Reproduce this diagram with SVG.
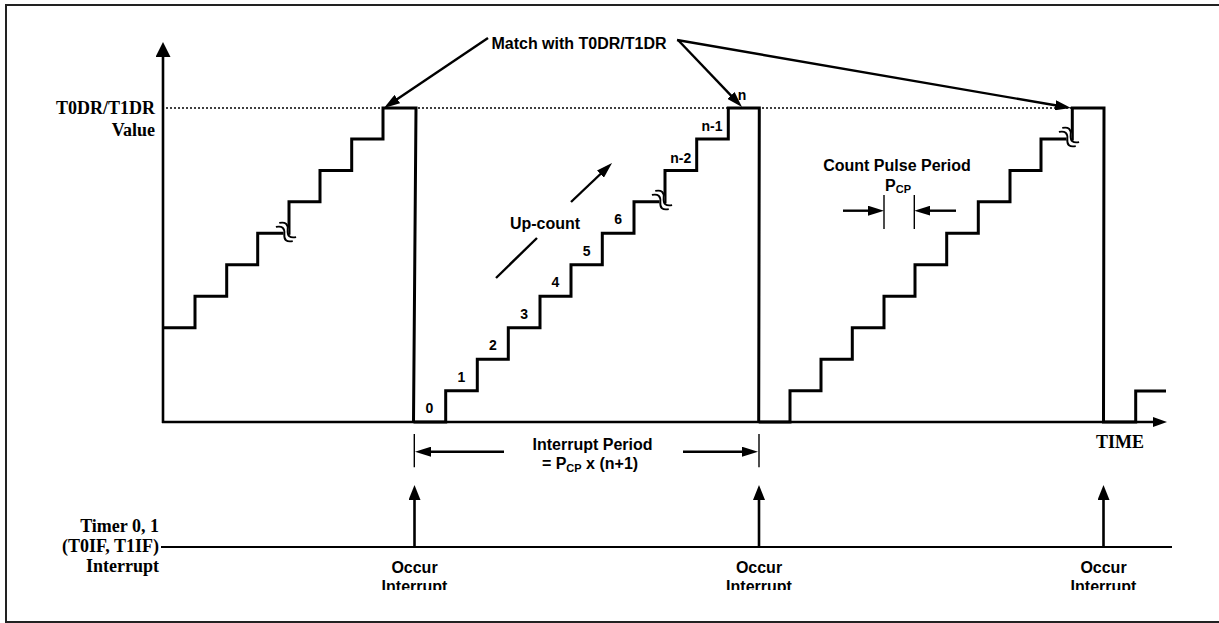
<svg xmlns="http://www.w3.org/2000/svg" width="1219" height="623" viewBox="0 0 1219 623">
<style>
.a{font-family:"Liberation Sans",Arial,sans-serif;font-weight:bold;font-size:16px;fill:#000}
.n{font-family:"Liberation Sans",Arial,sans-serif;font-weight:bold;font-size:14px;fill:#000;text-anchor:middle}
.s{font-family:"Liberation Serif","Times New Roman",serif;font-weight:bold;font-size:18px;fill:#000}
.stair{fill:none;stroke:#000;stroke-width:3}
.ax{fill:none;stroke:#000;stroke-width:2.6}
.c{fill:none;stroke:#000;stroke-width:2.4}
.thin{fill:none;stroke:#000;stroke-width:1.4}
.brk-w{fill:none;stroke:#fff;stroke-width:5}
.brk-b{fill:none;stroke:#000;stroke-width:1.9}
</style>
<defs>
<marker id="ah" markerUnits="userSpaceOnUse" markerWidth="16" markerHeight="10" refX="3" refY="5" orient="auto"><path d="M0,0 L16,5 L0,10 Z" fill="#000"/></marker>
<marker id="ahBig" markerUnits="userSpaceOnUse" markerWidth="15" markerHeight="15" refX="2" refY="7.5" orient="auto"><path d="M0,0 L15,7.5 L0,15 Z" fill="#000"/></marker>
<marker id="ahUp" markerUnits="userSpaceOnUse" markerWidth="15" markerHeight="12" refX="2" refY="6" orient="auto"><path d="M0,0 L15,6 L0,12 Z" fill="#000"/></marker>
<marker id="ahX" markerUnits="userSpaceOnUse" markerWidth="14" markerHeight="10" refX="3" refY="5" orient="auto"><path d="M0,0 L14,5 L0,10 Z" fill="#000"/></marker>
<g id="brk">
<path class="brk-w" d="M-11,0 C-7,-5 -3.5,-5 0,0 S7,5 11,0"/>
<path class="brk-b" d="M-11,-2.6 C-7,-7.6 -3.5,-7.6 0,-2.6 S7,2.4 11,-2.6"/>
<path class="brk-b" d="M-11,2.6 C-7,-2.4 -3.5,-2.4 0,2.6 S7,7.6 11,2.6"/>
</g>
<clipPath id="clipOcc"><rect x="0" y="0" width="1219" height="590"/></clipPath>
</defs>
<rect x="0" y="0" width="1219" height="623" fill="#fff"/>
<rect id="frame" x="6" y="5" width="1222" height="617" fill="#fff" stroke="#222" stroke-width="2"/>

<g id="value-label">
<text class="s" x="155" y="114" text-anchor="end">T0DR/T1DR</text>
<text class="s" x="155" y="136" text-anchor="end">Value</text>
</g>
<g id="dotted-level">
<line x1="166" y1="108" x2="1072" y2="108" stroke="#000" stroke-width="1.5" stroke-dasharray="2 2"/>
</g>

<g id="stair-1">
<path class="stair" d="M163,327.7 H195 V296.3 H226.7 V264.8 H257.7 V233.3 H289 V201.7 H320 V170.5 H351.7 V139 H383 V108 H416 L413.5,422"/>
<use href="#brk" transform="translate(286,232) rotate(40)"/>
</g>
<g id="stair-2">
<path class="stair" d="M413.5,422 H445.7 V390.7 H477.3 V359.2 H508.3 V327.7 H540 V296.3 H571 V264.8 H602.3 V233.3 H634 V201.7 H665 V170.5 H696.7 V139 H728.3 V108 H759.3 L758.7,422"/>
<use href="#brk" transform="translate(662,200) rotate(40)"/>
<text class="n" x="429.5" y="413">0</text>
<text class="n" x="461.5" y="381.7">1</text>
<text class="n" x="492.8" y="350.2">2</text>
<text class="n" x="524.2" y="318.7">3</text>
<text class="n" x="555.5" y="287.3">4</text>
<text class="n" x="586.7" y="255.8">5</text>
<text class="n" x="618.2" y="224.3">6</text>
<text class="n" x="680.8" y="162.5">n-2</text>
<text class="n" x="712" y="131">n-1</text>
<text class="n" x="742" y="100">n</text>
</g>
<g id="stair-3">
<path class="stair" d="M758.7,422 H790 V390.7 H821 V359.2 H852.3 V327.7 H884 V296.3 H915 V264.8 H946.7 V233.3 H978.3 V201.7 H1010 V170.5 H1041 V139 H1072.3 V108 H1104 L1103.5,422 H1135.7 V391 H1166"/>
<use href="#brk" transform="translate(1069,137) rotate(40)"/>
</g>

<g id="axes">
<line class="ax" x1="163" y1="423" x2="163" y2="55" marker-end="url(#ahBig)"/>
<line class="ax" x1="162" y1="422" x2="1156" y2="422" marker-end="url(#ahX)"/>
<text class="s" x="1120" y="448" text-anchor="middle">TIME</text>
</g>

<g id="match-label">
<text class="a" x="579" y="49" text-anchor="middle">Match with T0DR/T1DR</text>
</g>
<g id="upcount-label">
<text class="a" x="545" y="229" text-anchor="middle">Up-count</text>
</g>
<g id="count-pulse">
<text class="a" x="897" y="171" text-anchor="middle">Count Pulse Period</text>
<text class="a" x="898" y="190.5" text-anchor="middle">P<tspan font-size="11" dy="2.5">CP</tspan></text>
<line class="thin" x1="884" y1="195" x2="884" y2="229"/>
<line class="thin" x1="914.3" y1="195" x2="914.3" y2="229"/>
</g>
<g id="interrupt-period">
<line class="thin" x1="414.3" y1="434" x2="414.3" y2="467.3"/>
<line class="thin" x1="759" y1="434" x2="759" y2="467.3"/>
<text class="a" x="592.5" y="450" text-anchor="middle">Interrupt Period</text>
<text class="a" x="590" y="469" text-anchor="middle">= P<tspan font-size="11" dy="2.5">CP</tspan><tspan dy="-2.5"> x (n+1)</tspan></text>
</g>

<g id="interrupt-row">
<text class="s" x="159" y="532" text-anchor="end">Timer 0, 1</text>
<text class="s" x="159" y="552" text-anchor="end">(T0IF, T1IF)</text>
<text class="s" x="159" y="572" text-anchor="end">Interrupt</text>
<line x1="161" y1="547" x2="1172" y2="547" stroke="#000" stroke-width="2"/>
</g>
<g id="occur-1" clip-path="url(#clipOcc)">
<text class="a" x="414.5" y="572.5" text-anchor="middle">Occur</text>
<text class="a" x="414.5" y="591.5" text-anchor="middle">Interrupt</text>
</g>
<g id="occur-2" clip-path="url(#clipOcc)">
<text class="a" x="759" y="572.5" text-anchor="middle">Occur</text>
<text class="a" x="759" y="591.5" text-anchor="middle">Interrupt</text>
</g>
<g id="occur-3" clip-path="url(#clipOcc)">
<text class="a" x="1103.5" y="572.5" text-anchor="middle">Occur</text>
<text class="a" x="1103.5" y="591.5" text-anchor="middle">Interrupt</text>
</g>

<g id="connectors">
<line class="c" x1="488" y1="38" x2="394.8" y2="100.7" marker-end="url(#ah)"/>
<line class="c" x1="678" y1="40" x2="733" y2="97.6" marker-end="url(#ah)"/>
<line class="c" x1="677" y1="40" x2="1058.2" y2="105.8" marker-end="url(#ah)"/>
<line class="c" x1="496" y1="278" x2="537" y2="238"/>
<line class="c" x1="571" y1="202" x2="602.6" y2="172" marker-end="url(#ah)"/>
<line class="c" x1="843" y1="210.7" x2="871" y2="210.7" marker-end="url(#ah)"/>
<line class="c" x1="956" y1="210.7" x2="927.3" y2="210.7" marker-end="url(#ah)"/>
<line class="c" x1="504" y1="451.7" x2="428" y2="451.7" marker-end="url(#ah)"/>
<line class="c" x1="683" y1="451.7" x2="745" y2="451.7" marker-end="url(#ah)"/>
<line class="ax" x1="414.5" y1="547" x2="414.5" y2="498" marker-end="url(#ahUp)"/>
<line class="ax" x1="759" y1="547" x2="759" y2="498" marker-end="url(#ahUp)"/>
<line class="ax" x1="1103.5" y1="547" x2="1103.5" y2="498" marker-end="url(#ahUp)"/>
</g>
</svg>
